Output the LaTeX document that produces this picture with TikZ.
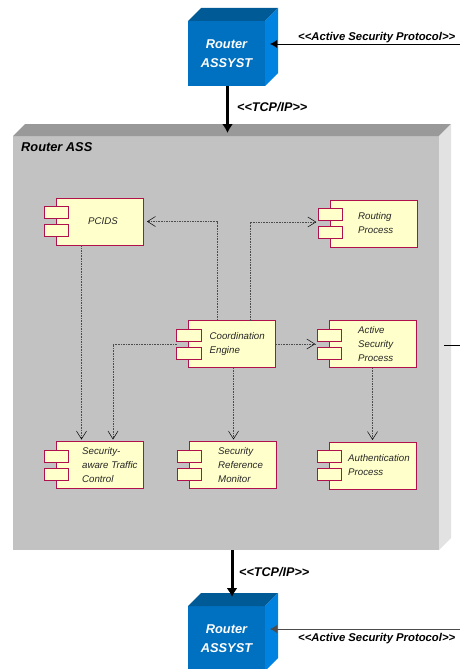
\documentclass[tikz,border=0pt]{standalone}
\usepackage{fontspec}
\setmainfont{Liberation Sans}
\usetikzlibrary{arrows.meta,calc}
\definecolor{assfront}{HTML}{C2C2C2}
\definecolor{asstop}{HTML}{999999}
\definecolor{assside}{HTML}{E2E2E2}
\definecolor{routerfront}{HTML}{0070C0}
\definecolor{routertop}{HTML}{005A96}
\definecolor{routerside}{HTML}{0082E0}
\definecolor{compline}{HTML}{B0104C}
\definecolor{compfill}{HTML}{FFFFCC}
\newcommand{\opengl}{<\kern0pt<}
\newcommand{\closegl}{>\kern0pt>}
\begin{document}
\begin{tikzpicture}[x=1pt,y=-1pt,
  router/.style={minimum width=77pt,minimum height=65pt,inner sep=0pt,outer sep=0pt,fill=routerfront,text=white,align=center,font=\fontsize{12.8}{19}\bfseries\itshape},
  comp/.style={draw=compline,fill=compfill,line width=0.8pt,minimum width=87pt,minimum height=47pt,inner sep=0pt,outer sep=0pt},
  comptab/.style={draw=compline,fill=compfill,line width=0.8pt,minimum width=24.5pt,minimum height=12pt,inner sep=0pt,outer sep=0pt},
  comptext/.style={anchor=west,align=left,inner sep=0pt,text=black!85,font=\fontsize{9.7}{14}\itshape},
  lab/.style={inner sep=0pt,font=\fontsize{11.3}{14}\bfseries\itshape},
  tcplab/.style={inner sep=0pt,font=\fontsize{12.6}{14}\bfseries\itshape},
  dep/.style={line width=0.5pt,dash pattern=on 1.6pt off 1pt,black!70,shorten >=2pt,-{Straight Barb[length=8pt,width=10pt,black]}},
  heavy/.style={line width=3pt,-{Latex[length=9pt,width=11pt]}},
  proto/.style={line width=0.8pt,-{Latex[length=7pt,width=8pt]}}
]
\clip (0,0) rectangle (460,669);
% Router ASS box
\node[minimum width=426pt,minimum height=414pt,inner sep=0pt,outer sep=0pt,fill=assfront] (ass) at (226,343) {};
\fill[asstop] (ass.north west) -- ++(12,-12) -- ++(426,0) -- (ass.north east) -- cycle;
\fill[assside] (ass.north east) -- ++(12,-12) -- ++(0,414) -- (ass.south east) -- cycle;
\node[anchor=west,inner sep=0pt,font=\fontsize{12.8}{14}\bfseries\itshape] (asslabel) at (21,147) {Router ASS};
% routers
\foreach \y/\n in {53.5/rtop,638.5/rbot}{
  \node[router] (\n) at (226.5,\y) {Router\\ASSYST};
  \fill[routertop] (\n.north west) -- ++(13,-13) -- ++(77,0) -- (\n.north east) -- cycle;
  \fill[routerside] (\n.north east) -- ++(13,-13) -- ++(0,65) -- (\n.south east) -- cycle;
}
% components
\foreach \x/\y/\n/\p/\t in {99.5/221.5/pcids/32/{PCIDS},373.5/223.5/routing/28/{Routing\\Process},232/344/coord/21/{Coordination\\Engine},372.5/344/active/29/{Active\\Security\\Process},99.5/465/aware/26/{Security-\\aware Traffic\\Control},232.5/465/srm/29/{Security\\Reference\\Monitor},372.5/465.5/auth/19/{Authentication\\Process}}{
  \node[comp] (\n) at (\x,\y) {};
  \node[comptab] (\n-a) at ($(\n.west)+(0.5,-9)$) {};
  \node[comptab] (\n-b) at ($(\n.west)+(0.5,9)$) {};
  \node[comptext] (\n-t) at ($(\n.west)+(\p,0)$) {\t};
}
% dependencies
\draw[dep] ([xshift=-15pt]coord.north) |- ([xshift=2pt]pcids.east);
\draw[dep] ([xshift=18pt]coord.north) |- ([yshift=1.5pt]routing.west -| routing-a.west);
\draw[dep] (coord.east) -- (active.west -| active-a.west);
\draw[dep] (coord.west -| coord-a.west) -| ([xshift=13.5pt]aware.north);
\draw[dep] ([xshift=-18pt]pcids.south) -- ([xshift=-18pt]aware.north);
\draw[dep] ([xshift=1.5pt]coord.south) -- ([xshift=1pt]srm.north);
\draw[dep] (active.south) -- (auth.north);
% links
\draw[heavy,shorten >=3pt] ([xshift=1pt]rtop.south) -- ([xshift=1pt]rtop.south |- ass.north);
\draw[heavy,shorten >=9pt] ([xshift=6pt]ass.south) -- ([xshift=5.5pt]rbot.north);
\coordinate (ptop) at (460,44);
\coordinate (pbot) at (460,629);
\coordinate (stuba) at (444,345);
\coordinate (stubb) at (460,345);
\draw[proto,shorten >=5pt] (ptop) -- (rtop.east |- ptop);
\draw[proto,black!70,shorten >=5pt] (pbot) -- (rbot.east |- pbot);
\draw[line width=0.8pt] (stuba) -- (stubb);
\node[lab,anchor=west] (ptoplabel) at (298,38) {\opengl Active Security Protocol\closegl};
\node[lab,anchor=west] (pbotlabel) at (298,639) {\opengl Active Security Protocol\closegl};
\node[tcplab,anchor=west] (tcptop) at (237,107) {\opengl TCP/IP\closegl};
\node[tcplab,anchor=west] (tcpbot) at (239,572) {\opengl TCP/IP\closegl};
\end{tikzpicture}
\end{document}
